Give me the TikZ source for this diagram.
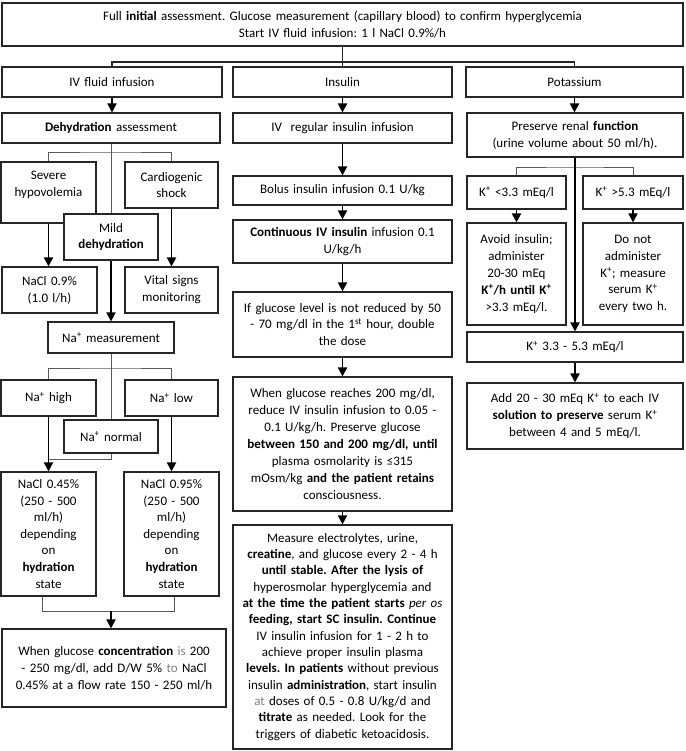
\documentclass[tikz,border=0pt]{standalone}
\usepackage{fontspec}
\setmainfont{Carlito}
\usetikzlibrary{arrows.meta,calc}
\tikzset{
 box/.style={draw=black!85, line width=1.1pt, fill=white, align=center, inner sep=0pt, font=\fontsize{13}{16.8}\selectfont\frenchspacing},
 thinln/.style={draw=black!65, line width=0.8pt},
 midln/.style={draw=black!85, line width=1.2pt},
 arr/.style={draw=black, line width=1.8pt, -{Triangle[width=9pt,length=9pt]}},
}
\newcommand\fcbox[6]{%
 \pgfmathsetmacro\fcw{#4-#2}\pgfmathsetmacro\fch{#5-#3}%
 \pgfmathsetmacro\fcx{(#2+#4)/2}\pgfmathsetmacro\fcy{(#3+#5)/2}%
 \pgfmathsetmacro\fct{#4-#2-4}%
 \node[box, minimum width=\fcw pt, minimum height=\fch pt, text width=\fct pt] (#1) at (\fcx,\fcy) {#6};}
\newcommand\kp{\textsuperscript{+}}
\begin{document}
\begin{tikzpicture}[x=1pt,y=-1pt]
\useasboundingbox (0,0) rectangle (685,751);
% top
\fcbox{top}{2}{3}{683}{46}{\fontsize{13}{18}\selectfont Full \textbf{initial} assessment. Glucose measurement (capillary blood) to confirm hyperglycemia\\Start IV fluid infusion: 1 l NaCl 0.9\%/h}
\fcbox{c1}{2}{67}{222}{97}{IV fluid infusion}
\fcbox{c2}{233}{67}{452}{97}{Insulin}
\fcbox{c3}{466}{67}{683}{97}{Potassium}
% column 1
\fcbox{dehyd}{2}{113}{220}{143}{\textbf{Dehydration} assessment}
\fcbox{severe}{1}{162}{96}{223}{Severe\\hypovolemia\\[-4pt]\strut}
\fcbox{cardio}{125}{162}{218}{208}{Cardiogenic\\shock}
\fcbox{mild}{64}{214}{158}{260}{Mild\\\textbf{dehydration}}
\fcbox{nacl09}{2}{267}{97}{313}{NaCl 0.9\%\\(1.0 l/h)}
\fcbox{vital}{125}{267}{218}{313}{Vital signs\\monitoring}
\fcbox{namea}{48}{322}{174}{353}{Na\kp{} measurement}
\fcbox{nahigh}{1}{380}{96}{416}{Na\kp{} high}
\fcbox{nalow}{125}{380}{218}{416}{Na\kp{} low}
\fcbox{nanorm}{64}{420}{158}{453}{Na\kp{} normal}
\fcbox{nacl45}{1}{472}{96}{596}{\fontsize{13}{16.5}\selectfont NaCl 0.45\%\\(250 - 500\\ml/h)\\depending\\on\\\textbf{hydration}\\state}
\fcbox{nacl95}{124}{472}{219}{596}{\fontsize{13}{16.5}\selectfont NaCl 0.95\%\\(250 - 500\\ml/h)\\depending\\on\\\textbf{hydration}\\state}
\fcbox{final}{2}{629}{226}{707}{When glucose \textbf{concentration} {\color{black!50}is} 200\\- 250 mg/dl, add D/W 5\% {\color{black!50}to} NaCl\\0.45\% at a flow rate 150 - 250 ml/h}
% column 2
\fcbox{ivreg}{233}{113}{452}{143}{IV\ \ regular insulin infusion}
\fcbox{bolus}{233}{176}{452}{205}{Bolus insulin infusion 0.1 U/kg}
\fcbox{contin}{233}{220}{452}{263}{\textbf{Continuous IV insulin} infusion 0.1\\U/kg/h}
\fcbox{ifglu}{233}{292}{452}{357}{If glucose level is not reduced by 50\\- 70 mg/dl in the 1\textsuperscript{st} hour, double\\the dose}
\fcbox{whenglu}{233}{377}{452}{511}{\fontsize{13}{17}\selectfont When glucose reaches 200 mg/dl,\\reduce IV insulin infusion to 0.05 -\\0.1 U/kg/h. Preserve glucose\\\textbf{between 150 and 200 mg/dl, until}\\plasma osmolarity is ≤315\\mOsm/kg \textbf{and the patient retains}\\consciousness.}
\fcbox{measure}{233}{525}{452}{749}{\fontsize{13}{16.3}\selectfont Measure electrolytes, urine,\\\textbf{creatine}, and glucose every 2 - 4 h\\\textbf{until stable. After the lysis of}\\hyperosmolar hyperglycemia and\\\textbf{at the time the patient starts} \textit{per os}\\\textbf{feeding, start SC insulin. Continue}\\IV insulin infusion for 1 - 2 h to\\achieve proper insulin plasma\\\textbf{levels. In patients} without previous\\insulin \textbf{administration}, start insulin\\{\color{black!50}at} doses of 0.5 - 0.8 U/kg/d and\\\textbf{titrate} as needed. Look for the\\triggers of diabetic ketoacidosis.}
% column 3
\fcbox{renal}{467}{113}{683}{157}{Preserve renal \textbf{function}\\(urine volume about 50 ml/h).}
\fcbox{klow}{467}{176}{566}{209}{K\kp{} <3.3 mEq/l}
\fcbox{khigh}{583}{176}{683}{209}{K\kp{} >5.3 mEq/l}
\fcbox{avoid}{467}{223}{566}{325}{Avoid insulin;\\administer\\20-30 mEq\\\textbf{K\kp/h until K\kp}\\>3.3 mEq/l.}
\fcbox{donot}{583}{223}{683}{325}{Do not\\administer\\K\kp; measure\\serum K\kp\\every two h.}
\fcbox{k33}{467}{332}{683}{362}{K\kp{} 3.3 - 5.3 mEq/l}
\fcbox{add}{467}{383}{683}{449}{Add 20 - 30 mEq K\kp{} to each IV\\\textbf{solution to preserve} serum K\kp\\between 4 and 5 mEq/l.}
% coordinates
\coordinate (t1) at (342.5,62);
\coordinate (d1) at (111,152);
\coordinate (n1) at (111,368);
\coordinate (n2) at (111,459);
\coordinate (b1) at (111,611);
\coordinate (k1) at (575,167);
% top connectors
\draw[midln] (top.south) -- (c2.north);
\draw[midln] (c1.north) |- (t1) -| (c3.north);
% column 1
\draw[arr] (c1.south) -- (c1.south |- dehyd.north);
\draw[thinln] (dehyd.south) -- (mild.north);
\draw[thinln] (severe.north) |- (d1) -| (cardio.north);
\draw[arr] (severe.south) -- (severe.south |- nacl09.north);
\draw[arr] (cardio.south) -- (cardio.south |- vital.north);
\draw[arr] (mild.south) -- (mild.south |- namea.north);
\draw[thinln] (namea.south) -- (nanorm.north);
\draw[thinln] (nahigh.north) |- (n1) -| (nalow.north);
\draw[thinln] (nanorm.south) -- (n2) -- (nahigh.south |- n2);
\draw[arr] (nahigh.south) -- (nahigh.south |- nacl45.north);
\draw[arr] (nalow.south) -- (nalow.south |- nacl95.north);
\draw[thinln] ([xshift=-6.5pt]nacl45.south) |- (b1);
\draw[thinln] ([xshift=2.5pt]nacl95.south) |- (b1);
\draw[arr] (b1) -- (b1 |- final.north);
% column 2
\draw[arr] (c2.south) -- (ivreg.north);
\draw[arr] (ivreg.south) -- (bolus.north);
\draw[arr] (bolus.south) -- (contin.north);
\draw[arr] (contin.south) -- (ifglu.north);
\draw[arr] (ifglu.south) -- (whenglu.north);
\draw[arr] (whenglu.south) -- (measure.north);
% column 3
\draw[arr] (c3.south) -- (c3.south |- renal.north);
\draw[thinln] (klow.north) |- (k1) -| (khigh.north);
\draw[arr] (renal.south) -- (k33.north);
\draw[arr] (klow.south) -- (avoid.north);
\draw[arr] (khigh.south) -- (donot.north);
\draw[arr] (k33.south) -- (add.north);
\end{tikzpicture}
\end{document}
